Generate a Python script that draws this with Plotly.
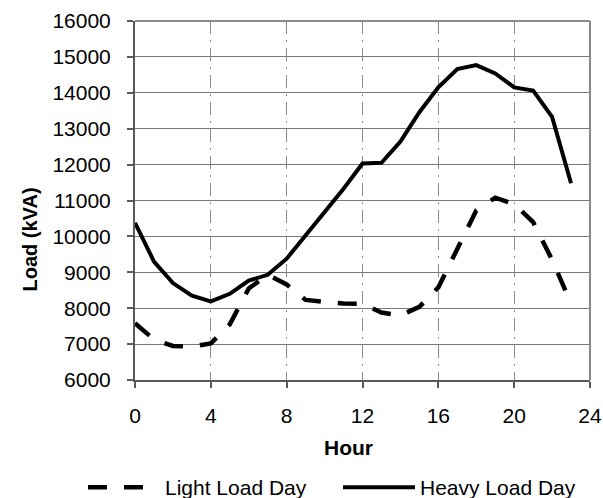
import plotly.graph_objects as go

hours = list(range(24))
light_load = [7580, 7130, 6950, 6930, 7020, 7550, 8550, 8930, 8660, 8230, 8180, 8130,
              8120, 7880, 7800, 8040, 8580, 9650, 10720, 11080, 10900, 10400, 9350, 8130]
heavy_load = [10380, 9300, 8700, 8350, 8190, 8400, 8770, 8930, 9380, 10020, 10650, 11330,
              12030, 12050, 12640, 13460, 14150, 14660, 14770, 14540, 14150, 14060, 13330, 11480]
x_ticks = [0, 4, 8, 12, 16, 20, 24]
y_ticks = list(range(6000, 16001, 1000))

W, H = 603, 498
L, R, T, B = 135, 13, 21, 118
pw, ph = W - L - R, H - T - B
FONT = "Liberation Sans, Arial, sans-serif"

fig = go.Figure()
fig.add_trace(go.Scatter(x=hours, y=light_load, mode="lines", name="Light Load Day",
                         line=dict(color="black", width=4.5, dash="19px,17px")))
fig.add_trace(go.Scatter(x=hours, y=heavy_load, mode="lines", name="Heavy Load Day",
                         line=dict(color="black", width=4)))

def px_x(px):
    return (px - L) / pw

def px_y(py):
    return (H - B - py) / ph

fig.update_layout(
    width=W, height=H,
    margin=dict(l=L, r=R, t=T, b=B, pad=0, autoexpand=False),
    paper_bgcolor="white", plot_bgcolor="white",
    font=dict(family=FONT, size=21, color="black"),
    showlegend=True,
    legend=dict(orientation="h", x=px_x(83), xanchor="left", y=px_y(467), yanchor="top",
                font=dict(size=21), itemwidth=72, entrywidth=168, tracegroupgap=0,
                bgcolor="rgba(0,0,0,0)"),
    xaxis=dict(range=[0, 24], tickvals=x_ticks, ticktext=[str(v) for v in x_ticks],
               showgrid=True, gridcolor="#8a8a8a", gridwidth=1, griddash="13px,6px,2px,6px",
               zeroline=False, showline=True, linecolor="#5a5a5a", linewidth=2,
               ticks="outside", ticklen=6, tickcolor="#5a5a5a", tickwidth=1.5,
               ticklabelstandoff=10, tickfont=dict(size=21)),
    yaxis=dict(range=[6000, 16000], tickvals=y_ticks, ticktext=[str(v) for v in y_ticks],
               showgrid=True, gridcolor="#7a7a7a", gridwidth=1.3,
               zeroline=False, showline=True, linecolor="#5a5a5a", linewidth=2,
               ticks="outside", ticklen=6, tickcolor="#5a5a5a", tickwidth=1.5,
               ticklabelstandoff=12, tickfont=dict(size=21)),
    shapes=[dict(type="line", xref="paper", yref="paper", x0=0, x1=1, y0=1, y1=1,
                 line=dict(color="#8a8a8a", width=2)),
            dict(type="line", xref="paper", yref="paper", x0=1, x1=1, y0=0, y1=1,
                 line=dict(color="#8a8a8a", width=2))],
    annotations=[
        dict(text="<b>Load (kVA)</b>", xref="paper", yref="paper", x=px_x(29.5), y=px_y(240),
             xanchor="center", yanchor="middle", textangle=-90, showarrow=False,
             font=dict(size=20)),
        dict(text="<b>Hour</b>", xref="paper", yref="paper", x=px_x(348), y=px_y(447),
             xanchor="center", yanchor="middle", showarrow=False, font=dict(size=21)),
    ],
)

fig.write_html("out.html")
